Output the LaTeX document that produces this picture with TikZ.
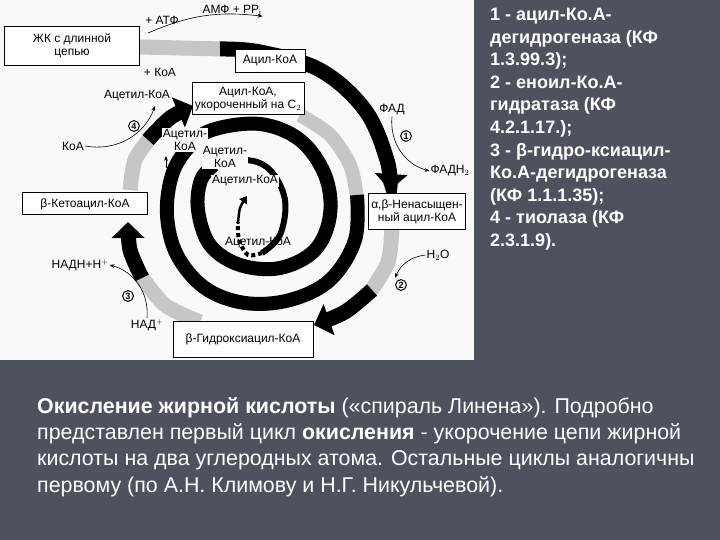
\documentclass[tikz,border=0pt]{standalone}
\usepackage{fontspec}
\setmainfont{Liberation Sans}
\usetikzlibrary{arrows.meta}
\definecolor{bg}{RGB}{77,82,94}
\begin{document}
\begin{tikzpicture}[x=1pt,y=-1pt,
 box/.style={draw,line width=1pt,fill=white,align=center,font=\fontsize{12}{13}\selectfont,inner sep=2pt},
 lbl/.style={font=\fontsize{12}{13}\selectfont,align=center,inner sep=1pt},
 num/.style={draw,circle,line width=1pt,inner sep=1pt,font=\fontsize{9}{9}\selectfont\bfseries},
 thin/.style={-{Stealth[length=5pt]},line width=0.6pt},
 big/.style={line width=15pt,-{Triangle[width=32pt,length=16pt]}},
 spk/.style={line width=15pt,gray!45},
 rtxt/.style={font=\fontsize{18}{22.6}\selectfont\bfseries,text=white,align=left,anchor=north west,inner sep=0pt},
 btxt/.style={font=\fontsize{21.4}{26.3}\selectfont,text=white,align=left,anchor=north west,inner sep=0pt}]
\fill[bg] (0,0) rectangle (720,540);
\fill[white!95!gray] (0,0) rectangle (474,360);
% outer band
\draw[spk] (140,47) -- (222,49);
\draw[big] plot[smooth,tension=0.6] coordinates {(220,49) (260,52) (320,70) (365,110) (387,160) (390,190)};
\draw[spk] plot[smooth] coordinates {(392,226) (388,262) (370,292)};
\draw[big] plot[smooth] coordinates {(372,290) (345,312) (314,325)};
\draw[spk] plot[smooth] coordinates {(200,322) (165,305) (140,275)};
\draw[big] plot[smooth] coordinates {(142,278) (130,250) (128,222)};
\draw[spk] plot[smooth] coordinates {(130,190) (135,160) (150,138)};
\draw[big] plot[smooth] coordinates {(148,140) (170,118) (193,106)};
% inner spiral
\draw[spk,line width=14pt] plot[smooth] coordinates {(300,115) (330,135) (350,165) (357,197)};
\draw[line width=14pt] plot[smooth,tension=0.6] coordinates {(357,195) (355,240) (330,280) (290,300) (245,303) (205,288) (177,255) (167,215) (172,175) (188,148) (212,130) (260,124) (300,140) (325,175) (330,215) (315,250) (280,268) (240,265) (210,245) (198,210) (201,180) (214,165)};
\draw[line width=6pt] plot[smooth,tension=0.6] coordinates {(210,168) (245,160) (270,170) (285,200) (280,235) (262,253)};
\draw[line width=4pt,dash pattern=on 4pt off 3pt] plot[smooth] coordinates {(262,253) (248,255) (239,240) (238,222)};
\draw[-{Triangle[width=9pt,length=7pt]},line width=2.5pt] plot[smooth] coordinates {(238,224) (240,208) (247,196)};
% boxes
\node[box,minimum width=135pt,minimum height=39pt] (zhk) at (72,46) {ЖК с длинной\\цепью};
\node[box,minimum width=70pt,minimum height=23pt] (acyl) at (270,61) {Ацил-КоА};
\node[box,minimum width=112pt,minimum height=32pt] (short) at (248,99) {Ацил-КоА,\\укороченный на C$_2$};
\node[box,minimum width=97pt,minimum height=36pt,inner sep=1pt] (unsat) at (417,212) {α,β-Ненасыщен-\\ный ацил-КоА};
\node[box,minimum width=140pt,minimum height=36pt] (hyd) at (243,339) {β-Гидроксиацил-КоА};
\node[box,minimum width=125pt,minimum height=22pt] (keto) at (85,204) {β-Кетоацил-КоА};
% side labels
\node[lbl] (atf) at (162,20) {+ АТФ};
\node[lbl] (amf) at (232,10) {АМФ + PP$_\mathrm{i}$};
\coordinate (a1) at (148,33);
\draw[thin] (a1) to[bend left=15] (amf.south east);
\node[lbl] (koa1) at (160,72) {+ КоА};
\node[lbl] (acet1) at (137,96) {Ацетил-КоА};
\node[lbl] (koa2) at (73,146) {КоА};
\coordinate (k2) at (155,106);
\draw[thin] (koa2.east) to[bend right=40] (k2);
\node[num] (n4) at (134,126) {4};
\node[lbl] (fad) at (392,110) {ФАД};
\node[lbl] (fadh) at (450,171) {ФАДН$_2$};
\node[num] (n1) at (406,136) {1};
\draw[thin] (fad.south) to[bend right=40] (fadh.west);
\node[lbl] (h2o) at (438,255) {H$_2$O};
\node[num] (n2) at (401,285) {2};
\coordinate (w2) at (395,278);
\draw[thin] (h2o.west) to[bend right=30] (w2);
\node[lbl] (nadh) at (80,265) {НАДН+Н$^+$};
\node[lbl] (nad) at (147,325) {НАД$^+$};
\node[num] (n3) at (128,296) {3};
\draw[thin] (nad.north) to[bend right=40] (nadh.east);
% inner labels
\node[lbl,fill=white!95!gray] (ac2) at (185,140) {Ацетил-\\КоА};
\node[lbl,fill=white!95!gray] (ac3) at (225,157) {Ацетил-\\КоА};
\node[lbl,fill=white!95!gray] (ac4) at (245,181) {Ацетил-КоА};
\node[lbl] (ac5) at (258,243) {Ацетил-КоА};
\coordinate (s1) at (166,168); \coordinate (s1e) at (166,156);
\coordinate (s2) at (198,183); \coordinate (s2e) at (198,171);
\draw[thin] (s1) -- (s1e);
\draw[thin] (s2) -- (s2e);
% right text
\node[rtxt] (rt) at (490,8) {1 - ацил-Ко.А-\\дегидрогеназа (КФ\\1.3.99.3);\\2 - еноил-Ко.А-\\гидратаза (КФ\\4.2.1.17.);\\3 - β-гидро-ксиацил-\\Ко.А-дегидрогеназа\\(КФ 1.1.1.35);\\4 - тиолаза (КФ\\2.3.1.9).};
\node[btxt] (bt) at (37,397) {\textbf{Окисление жирной кислоты} («спираль Линена»). Подробно\\представлен первый цикл \textbf{окисления} - укорочение цепи жирной\\кислоты на два углеродных атома. Остальные циклы аналогичны\\первому (по А.Н. Климову и Н.Г. Никульчевой).};
\end{tikzpicture}
\end{document}
